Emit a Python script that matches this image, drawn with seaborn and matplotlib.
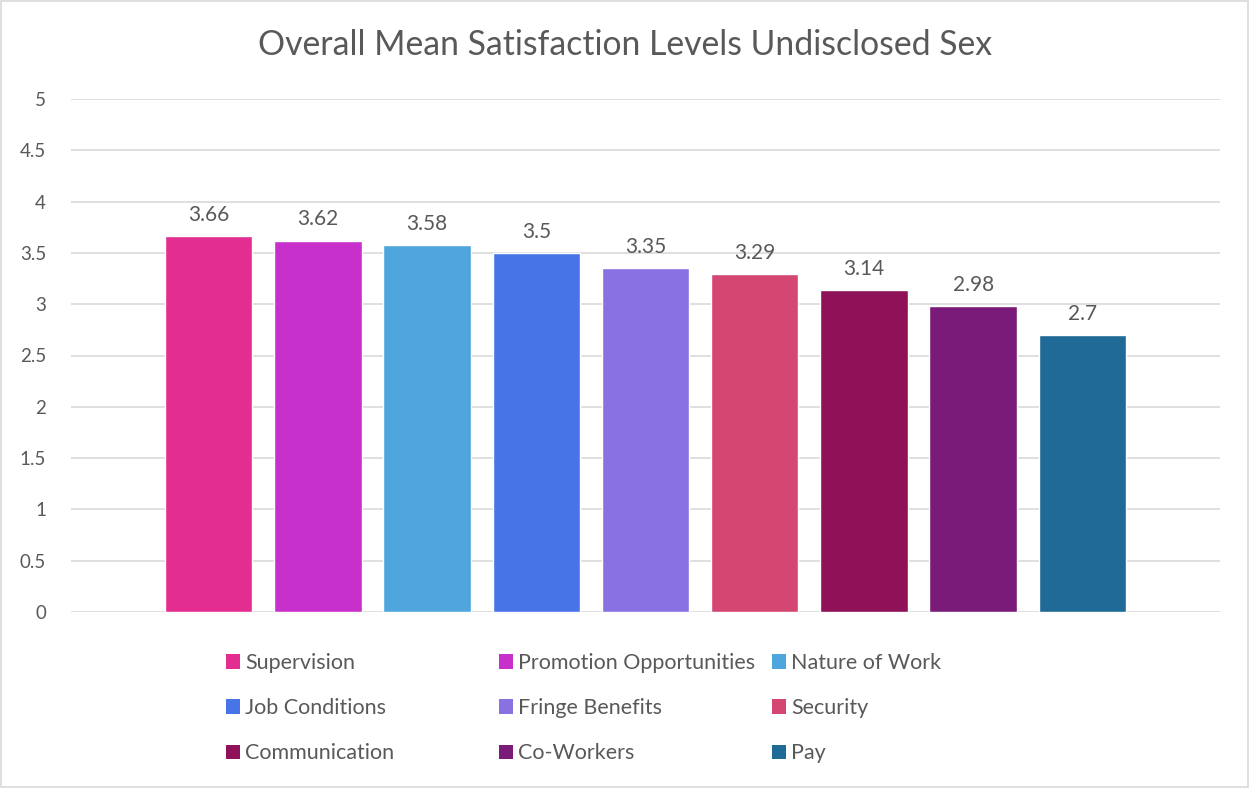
import matplotlib
matplotlib.use("Agg")
import matplotlib.pyplot as plt
import seaborn as sns
import pandas as pd
from matplotlib.patches import Patch, Rectangle

categories = ["Supervision", "Promotion Opportunities", "Nature of Work", "Job Conditions",
              "Fringe Benefits", "Security", "Communication", "Co-Workers", "Pay"]
values = [3.66, 3.62, 3.58, 3.5, 3.35, 3.29, 3.14, 2.98, 2.7]
colors = ["#E32D91", "#C830CC", "#4EA6DC", "#4775E7", "#8971E1",
          "#D54773", "#8F1157", "#7A1B7A", "#1F6A96"]
yticks = [0, 0.5, 1, 1.5, 2, 2.5, 3, 3.5, 4, 4.5, 5]
title = "Overall Mean Satisfaction Levels Undisclosed Sex"

sns.set_theme(style="white")
plt.rcParams["font.family"] = ["Lato", "DejaVu Sans"]
txt = "#595959"

W, H = 1249, 788
fig = plt.figure(figsize=(W / 100, H / 100), dpi=100)
ax = fig.add_axes([71 / W, (H - 612) / H, (1220 - 71) / W, (612 - 99) / H])

df = pd.DataFrame({"cat": categories, "val": values})
sns.barplot(data=df, x="cat", y="val", hue="cat", palette=colors, order=categories,
            hue_order=categories, width=0.8, legend=False, ax=ax, saturation=1)

ax.set_ylim(0, 5)
ax.set_xlim(-1.26, 8 + 1.26)
ax.set_yticks(yticks)
ax.set_yticklabels([("%g" % t) for t in yticks], color=txt, fontsize=13.5)
ax.tick_params(axis="y", length=0, pad=18)
ax.set_xticks([])
ax.set_xlabel("")
ax.set_ylabel("")
ax.grid(axis="y", color="#d9d9d9", linewidth=1.2)
ax.set_axisbelow(True)
for s in ax.spines.values():
    s.set_visible(False)

for c in ax.containers:
    ax.bar_label(c, labels=["%g" % v for v in c.datavalues], padding=8, color=txt, fontsize=15)

fig.text(625 / W, 1 - 45 / H, title, ha="center", va="center", fontsize=24.3,
         color=txt, fontweight="normal")

# legend in three columns, row-major ordering
cols = [[0, 3, 6], [1, 4, 7], [2, 5, 8]]
xs = [226, 499, 772]
for xi, idx in zip(xs, cols):
    handles = [Patch(facecolor=colors[i], edgecolor="none") for i in idx]
    labels = [categories[i] for i in idx]
    fig.legend(handles, labels, loc="upper left", bbox_to_anchor=(xi / W, 1 - 653 / H),
               frameon=False, borderpad=0, borderaxespad=0, handlelength=0.65,
               handleheight=0.65, handletextpad=0.25, labelspacing=1.17, fontsize=15.5,
               labelcolor=txt)

fig.patches.append(Rectangle((0.0008, 0.0012), 0.9984, 0.9976, transform=fig.transFigure,
                             fill=False, edgecolor="#d9d9d9", linewidth=1.2))

fig.savefig("out.png", dpi=100)
